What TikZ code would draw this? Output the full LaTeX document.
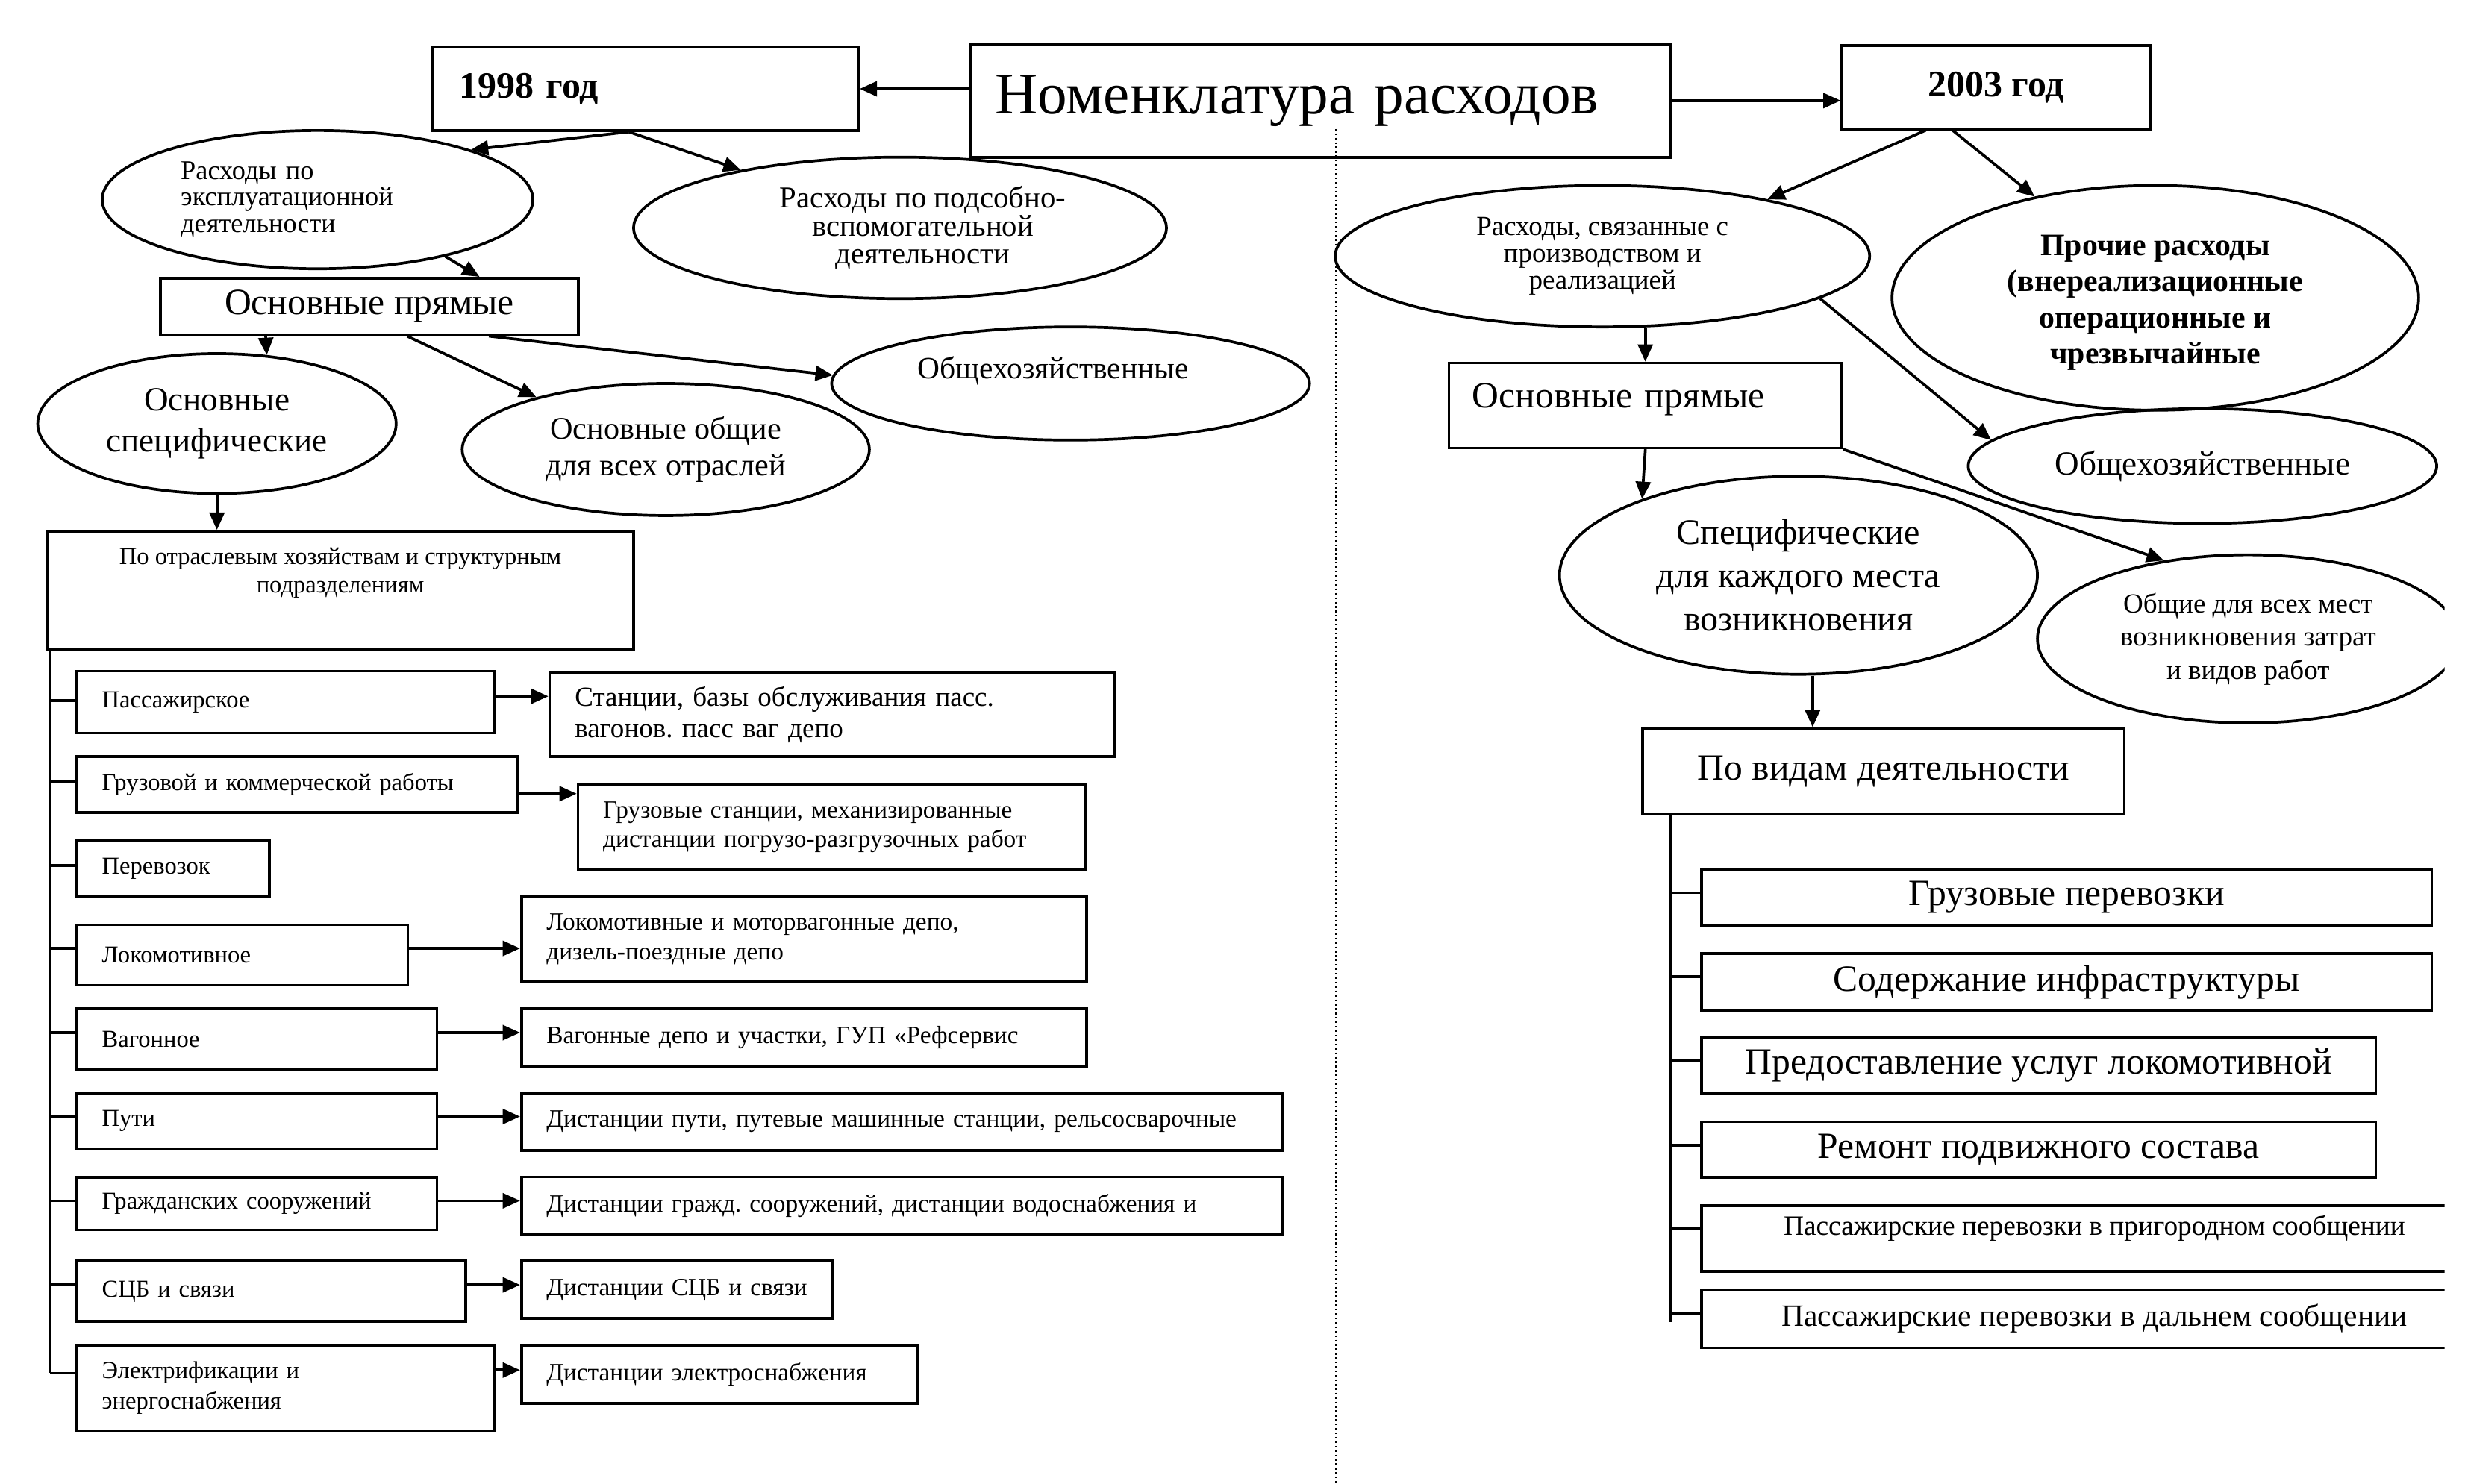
\documentclass[tikz,border=0pt]{standalone}
\usepackage{fontspec}
\setmainfont{Liberation Serif}
\usetikzlibrary{arrows.meta, shapes.geometric, positioning}
\newcommand{\setfs}[2]{\fontsize{#1}{#2}\selectfont}
\frenchspacing

\begin{document}
\begin{tikzpicture}[
                x=0.2mm, y=-0.2mm,
                box/.style={rectangle, draw, line width=1pt, inner sep=0pt},
                oval/.style={ellipse, draw, line width=1pt, inner sep=0pt, align=center},
                unit/.style={box, anchor=west, align=left, inner xsep=3.2mm, font=\setfs{8.8}{11.3}},
                kind/.style={box, anchor=west, font=\setfs{13.4}{16}},
                arr/.style={-{Triangle[length=2.2mm, width=1.9mm]}, line width=1pt},
                twig/.style={line width=1pt}
            ]
                \useasboundingbox (0,0) rectangle (1568,944.2);
                \clip (0,0) rectangle (1555,944.2);

                % header
                \draw[densely dotted, line width=0.6pt] (849.6,82) -- (849.6,944.2);
                \node[box, minimum height=14.4mm, text width=82.8mm, inner xsep=3.2mm, align=left, font=\setfs{21.4}{24}] (title) at (840,64) {Номенклатура расходов};
                \node[box, minimum height=10.6mm, text width=47.4mm, inner xsep=3.4mm, align=left, font=\bfseries\setfs{13.5}{16}] (y98) at (410.5,56.5) {1998 год};
                \node[box, minimum width=39.2mm, minimum height=10.6mm, font=\bfseries\setfs{13.5}{16}] (y03) at (1269.7,55.5) {2003 год};

                % 1998
                \node[oval, minimum width=54.8mm, minimum height=17.6mm, text width=34.8mm, align=left, font=\setfs{9.8}{9.7}] (e1) at (202,127) {Расходы по\\эксплуатационной\\деятельности};
                \node[oval, minimum width=67.8mm, minimum height=18mm, label={[align=center, font=\setfs{11}{10.2}, xshift=2.9mm]center:{Расходы по подсобно-\\вспомогательной\\деятельности}}] (e2) at (572.5,145) {};
                \node[box, minimum width=53.2mm, minimum height=7.2mm, font=\setfs{13.4}{16}] (lp) at (235,195) {Основные прямые};
                \node[oval, minimum width=45.6mm, minimum height=17.8mm, font=\setfs{12.2}{14.8}] (e3) at (138,269.5) {Основные\\специфические};
                \node[oval, minimum width=51.8mm, minimum height=16.8mm, font=\setfs{11.4}{13.1}] (e4) at (423.5,286) {Основные общие\\для всех отраслей};
                \node[oval, minimum width=60.8mm, minimum height=14.4mm, label={[font=\setfs{11.2}{13}, xshift=-2.2mm, yshift=1.6mm]center:Общехозяйственные}] (e5) at (681,244) {};
                \node[box, minimum width=74.6mm, minimum height=15mm, align=center, text depth=14.5pt, font=\setfs{8.8}{10.1}] (branch) at (216.5,375.5) {По отраслевым хозяйствам и структурным\\подразделениям};

                \node[unit, text width=46.7mm, minimum height=7.9mm] (s1) at (48,446.7) {Пассажирское};
                \node[unit, text width=49.7mm, minimum height=7.1mm] (s2) at (48,499.2) {Грузовой и коммерческой работы};
                \node[unit, text width=18.1mm, minimum height=7.1mm] (s3) at (48,552.8) {Перевозок};
                \node[unit, text width=35.7mm, minimum height=7.7mm] (s4) at (48,607.6) {Локомотивное};
                \node[unit, text width=39.4mm, minimum height=7.7mm] (s5) at (48,661.1) {Вагонное};
                \node[unit, text width=39.4mm, minimum height=7.1mm] (s6) at (48,713.2) {Пути};
                \node[unit, text width=39.4mm, minimum height=6.7mm] (s7) at (48,765.8) {Гражданских сооружений};
                \node[unit, text width=43.1mm, minimum height=7.7mm] (s8) at (48,821.6) {СЦБ и связи};
                \node[unit, text width=46.7mm, minimum height=10.9mm] (s9) at (48,883) {Электрификации и\\энергоснабжения};

                \node[unit, text width=65.5mm, minimum height=10.7mm, font=\setfs{10}{11.3}] (t1) at (348.8,454.5) {Станции, базы обслуживания пасс.\\вагонов. пасс ваг депо};
                \node[unit, text width=58.1mm, minimum height=10.9mm, font=\setfs{9}{10.8}] (t2) at (366.8,526.3) {Грузовые станции, механизированные\\дистанции погрузо-разгрузочных работ};
                \node[unit, text width=65.5mm, minimum height=10.9mm, font=\setfs{9}{10.8}] (t3) at (330.8,597.6) {Локомотивные и моторвагонные депо,\\дизель-поездные депо};
                \node[unit, text width=65.5mm, minimum height=7.3mm, font=\setfs{9}{10.8}] (t4) at (330.8,660.1) {Вагонные депо и участки, ГУП «Рефсервис};
                \node[unit, text width=90.4mm, minimum height=7.3mm, font=\setfs{9}{10.8}] (t5) at (330.8,713.6) {Дистанции пути, путевые машинные станции, рельсосварочные};
                \node[unit, text width=90.4mm, minimum height=7.3mm, font=\setfs{9}{10.8}] (t6) at (330.8,767.1) {Дистанции гражд. сооружений, дистанции водоснабжения и};
                \node[unit, text width=33.2mm, minimum height=7.3mm, font=\setfs{9}{10.8}] (t7) at (330.8,820.6) {Дистанции СЦБ и связи};
                \node[unit, text width=44mm, minimum height=7.4mm, font=\setfs{9}{10.8}] (t8) at (330.8,874.4) {Дистанции электроснабжения};

                % 2003
                \node[oval, minimum width=68mm, minimum height=18mm, font=\setfs{10}{9.7}] (R1) at (1019.3,163) {Расходы, связанные с\\производством и\\реализацией};
                \node[oval, minimum width=67mm, minimum height=28.6mm, label={[align=center, font=\bfseries\setfs{11.3}{13.1}, yshift=-0.6mm]center:{Прочие расходы\\(внереализационные\\операционные и\\чрезвычайные}}] (R2) at (1371,189.5) {};
                \node[box, minimum height=10.8mm, text width=44mm, inner xsep=3mm, align=left, text depth=7pt, font=\setfs{13.4}{16}] (rp) at (1046.6,258) {Основные прямые};
                \node[oval, minimum width=59.6mm, minimum height=14.6mm, font=\setfs{12.2}{14}] (R3) at (1401,296.5) {Общехозяйственные};
                \node[oval, minimum width=60.8mm, minimum height=25.2mm, font=\setfs{13}{15.6}] (R4) at (1144,366) {Специфические\\для каждого места\\возникновения};
                \node[oval, minimum width=53.6mm, minimum height=21.4mm, font=\setfs{10}{12}] (R5) at (1430,406.5) {Общие для всех мест\\возникновения затрат\\и видов работ};
                \node[box, minimum width=61.3mm, minimum height=10.9mm, font=\setfs{13.4}{16}] (kinds) at (1198,490.8) {По видам деятельности};

                \node[kind, minimum width=92.9mm, minimum height=7.2mm] (k1) at (1081.4,571) {Грузовые перевозки};
                \node[kind, minimum width=92.9mm, minimum height=7.26mm] (k2) at (1081.4,624.9) {Содержание инфраструктуры};
                \node[kind, minimum width=85.8mm, minimum height=7.1mm] (k3) at (1081.4,677.9) {Предоставление услуг локомотивной};
                \node[kind, minimum width=85.8mm, minimum height=7.06mm] (k4) at (1081.4,731.4) {Ремонт подвижного состава};
                \node[kind, minimum width=100mm, minimum height=8.4mm, text depth=9.5pt, font=\setfs{10.1}{12}] (k5) at (1081.4,788) {Пассажирские перевозки в пригородном сообщении};
                \node[kind, minimum width=100mm, minimum height=7.4mm, font=\setfs{11.2}{13}] (k6) at (1081.4,839) {Пассажирские перевозки в дальнем сообщении};

                % connectors
                \draw[arr] (title.west |- y98.east) -- (y98.east);
                \draw[arr] (title.east) -- (title.east -| y03.west);
                \draw[arr] ([xshift=-2.1mm]y98.south) -- (e1.18);
                \draw[arr] ([xshift=-2.1mm]y98.south) -- (e2.160);
                \draw[arr] (e1.336) -- ([xshift=14mm]lp.north);
                \draw[arr] ([xshift=-13.2mm]lp.south) -- (e3.54);
                \draw[arr] ([xshift=4.8mm]lp.south) -- (e4.158);
                \draw[arr] ([xshift=15.2mm]lp.south) -- (e5.178);
                \draw[arr] (e3.south) -- (e3.south |- branch.north);

                \coordinate (ltrunk) at ([xshift=0.54mm]branch.south west);
                \draw[twig] (ltrunk) -- ([yshift=1.86mm]ltrunk |- s9.west);
                \foreach \s/\d in {s1/0.2, s2/0.4, s3/0.42, s4/0.84, s5/0.82, s6/0.56, s7/0.36, s8/0.82, s9/1.86}
                    \draw[twig] ([yshift=\d mm]ltrunk |- \s.west) -- ([yshift=\d mm]\s.west);
                \foreach \s/\t/\d in {s1/t1/0.74, s2/t2/-1.16, s4/t3/0.84, s5/t4/0.82, s6/t5/0.56, s7/t6/0.36, s8/t7/0.82, s9/t8/2.26}
                    \draw[arr] ([yshift=\d mm]\s.east) -- ([yshift=\d mm]\s.east -| \t.west);

                \draw[arr] ([xshift=-8.94mm]y03.south) -- (R1.19);
                \draw[arr] ([xshift=-5.54mm]y03.south) -- (R2.140);
                \draw[arr] (rp.north |- R1.south) -- (rp.north);
                \draw[arr] (R1.349) -- (R3.173);
                \draw[arr] (rp.south) -- (R4.154);
                \draw[arr] (rp.south east) -- (R5.137);
                \draw[arr] ([xshift=1.8mm]R4.south) -- ([xshift=1.8mm]R4.south |- kinds.north);

                \coordinate (rtrunk) at ([xshift=3.76mm]kinds.south west);
                \draw[twig] (rtrunk) -- ([yshift=-0.4mm]rtrunk |- k6.west);
                \foreach \k/\d in {k1/0.6, k2/0.68, k3/0.58, k4/0.52, k5/1.2, k6/0.6}
                    \draw[twig] ([yshift=\d mm]rtrunk |- \k.west) -- ([yshift=\d mm]\k.west);
            \end{tikzpicture}
\end{document}
